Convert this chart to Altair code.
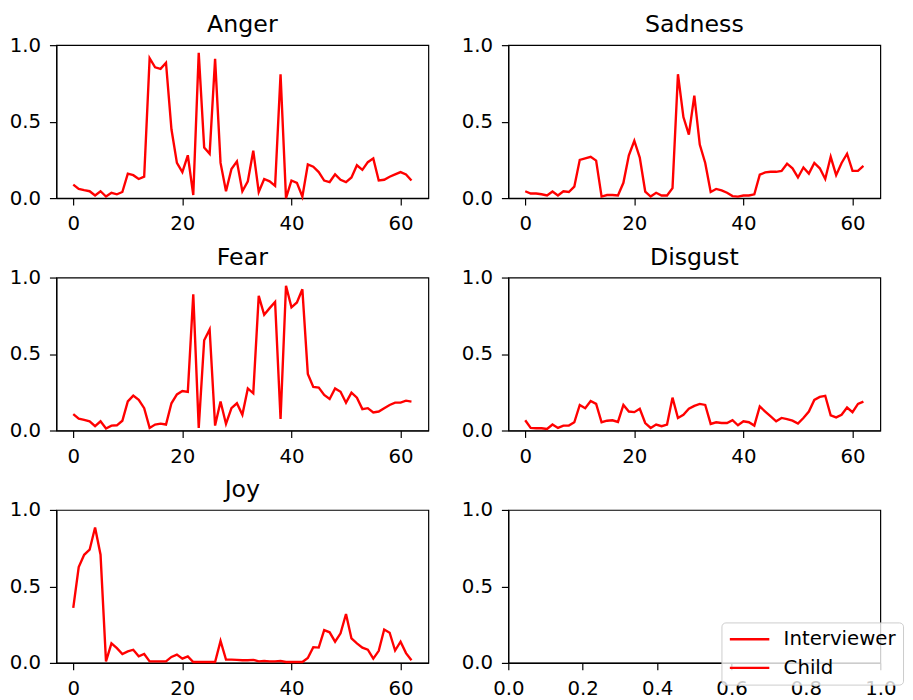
import altair as alt
import pandas as pd

emotions = ["Anger", "Sadness", "Fear", "Disgust", "Joy"]
steps = list(range(63))

anger = [0.088, 0.06, 0.052, 0.045, 0.017, 0.045, 0.01, 0.035, 0.025, 0.04,
         0.16, 0.15, 0.125, 0.14, 0.915, 0.855, 0.845, 0.885, 0.45, 0.23,
         0.17, 0.28, 0.02, 0.95, 0.33, 0.29, 0.91, 0.23, 0.045, 0.19,
         0.24, 0.045, 0.11, 0.31, 0.04, 0.125, 0.11, 0.08, 0.81, 0.0,
         0.115, 0.1, 0.01, 0.22, 0.205, 0.17, 0.115, 0.105, 0.155, 0.12,
         0.105, 0.135, 0.215, 0.185, 0.235, 0.26, 0.115, 0.12, 0.14, 0.155,
         0.17, 0.155, 0.115]
sadness = [0.045, 0.03, 0.03, 0.025, 0.017, 0.043, 0.017, 0.045, 0.04, 0.075,
           0.25, 0.26, 0.27, 0.245, 0.01, 0.02, 0.02, 0.017, 0.1, 0.28,
           0.375, 0.265, 0.043, 0.01, 0.035, 0.017, 0.017, 0.065, 0.81, 0.53,
           0.415, 0.67, 0.35, 0.23, 0.04, 0.06, 0.05, 0.035, 0.013, 0.01,
           0.017, 0.017, 0.025, 0.153, 0.168, 0.172, 0.172, 0.178, 0.225, 0.195,
           0.135, 0.2, 0.16, 0.23, 0.195, 0.125, 0.27, 0.15, 0.23, 0.29,
           0.178, 0.178, 0.21]
fear = [0.107, 0.077, 0.07, 0.06, 0.028, 0.06, 0.013, 0.032, 0.034, 0.064,
        0.19, 0.228, 0.2, 0.146, 0.017, 0.039, 0.045, 0.039, 0.178, 0.236,
        0.258, 0.253, 0.89, 0.017, 0.59, 0.66, 0.032, 0.19, 0.043, 0.146,
        0.178, 0.103, 0.275, 0.243, 0.88, 0.757, 0.8, 0.84, 0.075, 0.946,
        0.805, 0.837, 0.923, 0.37, 0.285, 0.281, 0.232, 0.206, 0.275, 0.253,
        0.182, 0.247, 0.215, 0.14, 0.146, 0.118, 0.124, 0.146, 0.167, 0.182,
        0.182, 0.195, 0.189]
disgust = [0.067, 0.017, 0.015, 0.015, 0.01, 0.039, 0.017, 0.032, 0.032, 0.054,
           0.167, 0.146, 0.193, 0.174, 0.054, 0.064, 0.067, 0.056, 0.167, 0.124,
           0.12, 0.142, 0.049, 0.017, 0.039, 0.028, 0.039, 0.215, 0.082, 0.103,
           0.142, 0.161, 0.174, 0.167, 0.043, 0.054, 0.049, 0.049, 0.067, 0.034,
           0.06, 0.054, 0.032, 0.157, 0.124, 0.092, 0.06, 0.082, 0.075, 0.064,
           0.045, 0.082, 0.124, 0.2, 0.22, 0.227, 0.099, 0.086, 0.103, 0.15,
           0.12, 0.174, 0.189]
joy = [0.36, 0.627, 0.707, 0.74, 0.885, 0.707, 0.01, 0.128, 0.096, 0.058,
       0.075, 0.086, 0.043, 0.058, 0.01, 0.01, 0.01, 0.01, 0.039, 0.054,
       0.028, 0.043, 0.006, 0.006, 0.006, 0.006, 0.006, 0.143, 0.021, 0.021,
       0.02, 0.017, 0.017, 0.02, 0.01, 0.013, 0.01, 0.01, 0.013, 0.006,
       0.006, 0.006, 0.006, 0.032, 0.103, 0.1, 0.214, 0.2, 0.139, 0.193,
       0.32, 0.16, 0.128, 0.1, 0.086, 0.028, 0.079, 0.218, 0.197, 0.081,
       0.139, 0.064, 0.017]

series_names = ["Interviewer", "Child"]
series_colors = ["red", "red"]
x_ticks = [0, 20, 40, 60]
y_ticks = [0.0, 0.5, 1.0]
empty_ticks = [0.0, 0.2, 0.4, 0.6, 0.8, 1.0]

rows = []
for name, vals in zip(emotions, [anger, sadness, fear, disgust, joy]):
    for t, v in zip(steps, vals):
        rows.append({"emotion": name, "t": t, "value": v})
df = pd.DataFrame(rows)

legend_df = pd.DataFrame({"series": series_names, "t": [None, None], "value": [None, None]})

W, H = 377, 155
FONT = "DejaVu Sans"
axis_common = dict(tickSize=7, labelPadding=9, domainColor="black", tickColor="black",
                   labelColor="black", labelFont=FONT, labelFontSize=20, grid=False,
                   labelFlush=False, labelOverlap=False, title=None, tickWidth=1.2,
                   domainWidth=1.2)


def title_params(text):
    return alt.TitleParams(text, font=FONT, fontSize=24, fontWeight="normal", color="black",
                           anchor="middle", baseline="alphabetic", offset=-21, frame="group")


def panel(name):
    return alt.Chart(df).transform_filter(alt.datum.emotion == name).mark_line(
        color="red", strokeWidth=2.4
    ).encode(
        x=alt.X("t:Q", scale=alt.Scale(domain=[-3.1, 65.1], nice=False, zero=False),
                axis=alt.Axis(values=x_ticks, format="d", **axis_common)),
        y=alt.Y("value:Q", scale=alt.Scale(domain=[0, 1], nice=False),
                axis=alt.Axis(values=y_ticks, format=".1f", **axis_common)),
    ).properties(width=W, height=H, title=title_params(name))


empty = alt.Chart(legend_df).mark_line(strokeWidth=2.4).encode(
    x=alt.X("t:Q", scale=alt.Scale(domain=[0, 1], nice=False, zero=False),
            axis=alt.Axis(values=empty_ticks, format=".1f", **axis_common)),
    y=alt.Y("value:Q", scale=alt.Scale(domain=[0, 1], nice=False),
            axis=alt.Axis(values=y_ticks, format=".1f", **axis_common)),
    color=alt.Color("series:N", scale=alt.Scale(domain=series_names, range=series_colors),
                    legend=alt.Legend(title=None, orient="none", legendX=216, legendY=114,
                                      symbolType="stroke", symbolSize=1600, symbolStrokeWidth=2.4,
                                      clipHeight=20,
                                      labelFont=FONT, labelFontSize=20, labelColor="black",
                                      labelOffset=13, rowPadding=9, padding=7,
                                      fillColor="rgba(255,255,255,0.8)", strokeColor="#cccccc",
                                      cornerRadius=4)),
).properties(width=W, height=H, title=title_params(" "))

charts = [panel(e) for e in emotions] + [empty]

chart = alt.ConcatChart(
    concat=charts, columns=2, spacing={"row": 10.5, "column": 31}
).resolve_scale(color="independent").resolve_legend(color="independent").properties(
    padding={"left": 0, "top": 0, "right": 0, "bottom": 0}
).configure_view(stroke="black", strokeWidth=1.2)

chart.save("out.html", embed_options={"renderer": "svg", "actions": False})
